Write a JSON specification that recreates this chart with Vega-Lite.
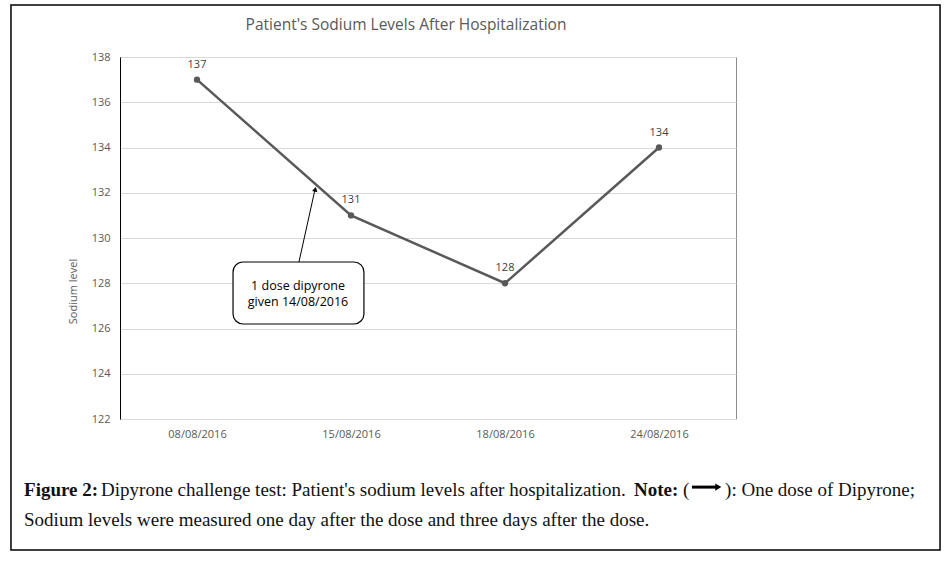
{
  "$schema": "https://vega.github.io/schema/vega-lite/v6.json",
  "autosize": {"type": "none"},
  "width": 616,
  "height": 362,
  "padding": {"left": 120, "top": 57, "right": 210, "bottom": 142},
  "background": "white",
  "config": {
    "view": {"stroke": "#8c8c8c", "strokeWidth": 1},
    "font": "Open Sans"
  },
  "datasets": {
    "sodium": [
      {"i": 0, "date": "08/08/2016", "level": 137},
      {"i": 1, "date": "15/08/2016", "level": 131},
      {"i": 2, "date": "18/08/2016", "level": 128},
      {"i": 3, "date": "24/08/2016", "level": 134}
    ]
  },
  "layer": [
    {
      "data": {"name": "sodium"},
      "mark": {"type": "line", "color": "#595959", "strokeWidth": 2.5},
      "encoding": {
        "x": {
          "field": "i", "type": "quantitative",
          "scale": {"domain": [-0.5, 3.5], "nice": false, "zero": false},
          "axis": {
            "title": null, "values": [0, 1, 2, 3],
            "labelExpr": "['08/08/2016','15/08/2016','18/08/2016','24/08/2016'][datum.value]",
            "grid": false, "ticks": false, "domainColor": "#d9d9d9",
            "labelFont": "Open Sans", "labelFontSize": 11, "labelColor": "#595959", "labelPadding": 9
          }
        },
        "y": {
          "field": "level", "type": "quantitative",
          "scale": {"domain": [122, 138], "nice": false, "zero": false},
          "axis": {
            "title": "Sodium level", "values": [122, 124, 126, 128, 130, 132, 134, 136, 138],
            "grid": true, "gridColor": "#d9d9d9", "ticks": false,
            "domainColor": "#000000", "domainWidth": 1,
            "labelFont": "Open Sans", "labelFontSize": 11, "labelColor": "#595959", "labelPadding": 10,
            "titleFont": "Open Sans", "titleFontSize": 11, "titleFontWeight": "normal", "titleColor": "#595959",
            "titleX": -47, "titleY": 234, "titleBaseline": "middle", "titleAngle": -90
          }
        }
      }
    },
    {
      "data": {"name": "sodium"},
      "mark": {"type": "point", "filled": true, "size": 40, "color": "#595959", "opacity": 1},
      "encoding": {
        "x": {"field": "i", "type": "quantitative"},
        "y": {"field": "level", "type": "quantitative"}
      }
    },
    {
      "data": {"name": "sodium"},
      "mark": {"type": "text", "dy": -15, "fontSize": 11, "color": "#404040", "font": "Open Sans"},
      "encoding": {
        "x": {"field": "i", "type": "quantitative"},
        "y": {"field": "level", "type": "quantitative"},
        "text": {"field": "level", "type": "quantitative"}
      }
    },
    {
      "data": {"values": [{}]},
      "mark": {"type": "text", "font": "Open Sans", "fontSize": 15.5, "color": "#595959", "align": "center", "baseline": "middle"},
      "encoding": {
        "x": {"datum": 1.357, "type": "quantitative"},
        "y": {"datum": 139.41, "type": "quantitative"},
        "text": {"value": "Patient's Sodium Levels After Hospitalization"}
      }
    },
    {
      "data": {"values": [{}]},
      "mark": {"type": "rule", "color": "#000000", "strokeWidth": 1},
      "encoding": {
        "x": {"datum": 0.662, "type": "quantitative"},
        "x2": {"datum": 0.768},
        "y": {"datum": 128.94, "type": "quantitative"},
        "y2": {"datum": 132.2}
      }
    },
    {
      "data": {"values": [{}]},
      "mark": {"type": "point", "shape": "triangle-up", "filled": true, "color": "#000000", "size": 30, "angle": 12.6, "opacity": 1},
      "encoding": {
        "x": {"datum": 0.768, "type": "quantitative"},
        "y": {"datum": 132.15, "type": "quantitative"}
      }
    },
    {
      "data": {"values": [{}]},
      "mark": {"type": "rect", "fill": "white", "stroke": "#000000", "strokeWidth": 1.2, "cornerRadius": 10},
      "encoding": {
        "x": {"datum": 0.234, "type": "quantitative"},
        "x2": {"datum": 1.084},
        "y": {"datum": 128.94, "type": "quantitative"},
        "y2": {"datum": 126.2}
      }
    },
    {
      "data": {"values": [{}]},
      "mark": {"type": "text", "font": "Open Sans", "fontSize": 12.5, "color": "#000000", "lineHeight": 16, "align": "center", "baseline": "middle"},
      "encoding": {
        "x": {"datum": 0.656, "type": "quantitative"},
        "y": {"datum": 127.9, "type": "quantitative"},
        "text": {"value": ["1 dose dipyrone", "given 14/08/2016"]}
      }
    },
    {
      "data": {"values": [{}]},
      "mark": {"type": "text", "font": "Liberation Serif", "fontSize": 19, "fontWeight": "bold", "color": "#111111", "align": "left", "baseline": "middle"},
      "encoding": {
        "x": {"datum": -1.123, "type": "quantitative"},
        "y": {"datum": 118.86, "type": "quantitative"},
        "text": {"value": "Figure 2:"}
      }
    },
    {
      "data": {"values": [{}]},
      "mark": {"type": "text", "font": "Liberation Serif", "fontSize": 19, "color": "#111111", "align": "left", "baseline": "middle"},
      "encoding": {
        "x": {"datum": -0.623, "type": "quantitative"},
        "y": {"datum": 118.86, "type": "quantitative"},
        "text": {"value": "Dipyrone challenge test: Patient's sodium levels after hospitalization."}
      }
    },
    {
      "data": {"values": [{}]},
      "mark": {"type": "text", "font": "Liberation Serif", "fontSize": 19, "fontWeight": "bold", "color": "#111111", "align": "left", "baseline": "middle"},
      "encoding": {
        "x": {"datum": 2.838, "type": "quantitative"},
        "y": {"datum": 118.86, "type": "quantitative"},
        "text": {"value": "Note:"}
      }
    },
    {
      "data": {"values": [{}]},
      "mark": {"type": "text", "font": "Liberation Serif", "fontSize": 19, "color": "#111111", "align": "left", "baseline": "middle"},
      "encoding": {
        "x": {"datum": 3.156, "type": "quantitative"},
        "y": {"datum": 118.86, "type": "quantitative"},
        "text": {"value": "("}
      }
    },
    {
      "data": {"values": [{}]},
      "mark": {"type": "rule", "color": "#000000", "strokeWidth": 3},
      "encoding": {
        "x": {"datum": 3.214, "type": "quantitative"},
        "x2": {"datum": 3.37},
        "y": {"datum": 118.99, "type": "quantitative"}
      }
    },
    {
      "data": {"values": [{}]},
      "mark": {"type": "point", "shape": "triangle-right", "filled": true, "color": "#000000", "size": 50, "opacity": 1},
      "encoding": {
        "x": {"datum": 3.385, "type": "quantitative"},
        "y": {"datum": 118.99, "type": "quantitative"}
      }
    },
    {
      "data": {"values": [{}]},
      "mark": {"type": "text", "font": "Liberation Serif", "fontSize": 19, "color": "#111111", "align": "left", "baseline": "middle"},
      "encoding": {
        "x": {"datum": 3.429, "type": "quantitative"},
        "y": {"datum": 118.86, "type": "quantitative"},
        "text": {"value": "): One dose of Dipyrone;"}
      }
    },
    {
      "data": {"values": [{}]},
      "mark": {"type": "text", "font": "Liberation Serif", "fontSize": 19, "color": "#111111", "align": "left", "baseline": "middle"},
      "encoding": {
        "x": {"datum": -1.123, "type": "quantitative"},
        "y": {"datum": 117.54, "type": "quantitative"},
        "text": {"value": "Sodium levels were measured one day after the dose and three days after the dose."}
      }
    },
    {
      "data": {"values": [{}]},
      "mark": {"type": "rect", "fill": null, "fillOpacity": 0, "stroke": "#000000", "strokeWidth": 1.5},
      "encoding": {
        "x": {"datum": -1.208, "type": "quantitative"},
        "x2": {"datum": 4.825},
        "y": {"datum": 140.3, "type": "quantitative"},
        "y2": {"datum": 116.21}
      }
    }
  ]
}
